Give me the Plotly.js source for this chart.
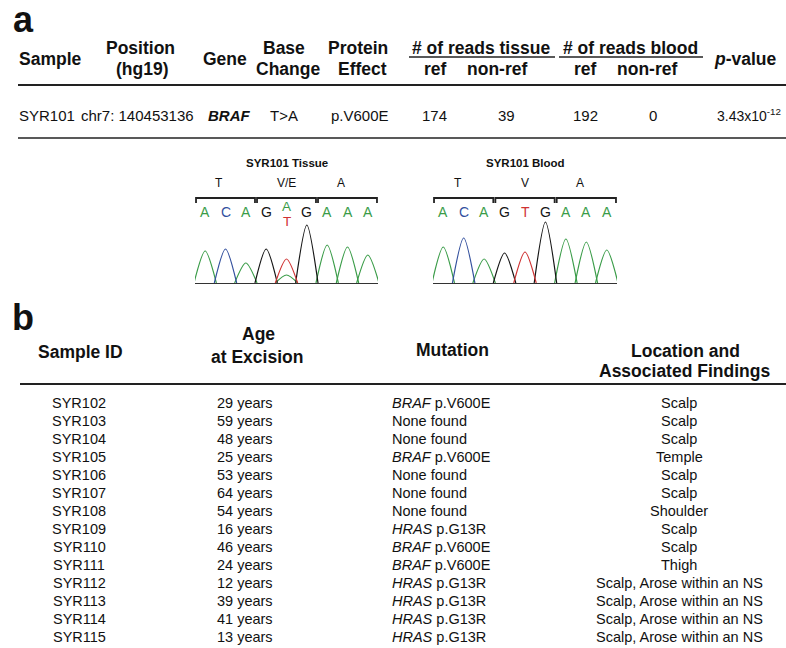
<!DOCTYPE html>
<html><head><meta charset="utf-8">
<script src="https://cdn.plot.ly/plotly-3.0.1.min.js"></script>
<style>html,body{margin:0;padding:0;background:#fff}</style>
</head><body><div id="chart" style="width:786px;height:648px"></div>
<script>
// ---------- Panel a : variant table ----------
const aSample = 'SYR101';
const aPosition = 'chr7: 140453136';
const aGene = 'BRAF';
const aBaseChange = 'T>A';
const aProteinEffect = 'p.V600E';
const aReadGroups = ['# of reads tissue', '# of reads blood'];
const aReadSubCols = ['ref', 'non-ref', 'ref', 'non-ref'];
const aReadCounts = [174, 39, 192, 0];
const aPValueMantissa = '3.43';
const aPValueExponent = -12;

// ---------- Panel a : Sanger chromatograms ----------
const codonLabelsTissue = ['T', 'V/E', 'A'];
const codonLabelsBlood = ['T', 'V', 'A'];
const tissueCalls = ['A', 'C', 'A', 'G', 'A', 'G', 'A', 'A', 'A'];
const tissueSecondCalls = ['', '', '', '', 'T', '', '', '', ''];
const tissuePeakPos = [1, 2, 3, 4, 5, 5, 6, 7, 8, 9];
const tissuePeakBase = ['A', 'C', 'A', 'G', 'T', 'A', 'G', 'A', 'A', 'A'];
const tissuePeakHeight = [32, 34, 20, 34, 24, 8, 58, 38, 36, 28];
const bloodCalls = ['A', 'C', 'A', 'G', 'T', 'G', 'A', 'A', 'A'];
const bloodPeakPos = [1, 2, 3, 4, 5, 6, 7, 8, 9];
const bloodPeakBase = ['A', 'C', 'A', 'G', 'T', 'G', 'A', 'A', 'A'];
const bloodPeakHeight = [36, 45, 24, 30, 31, 61, 44, 41, 33];

// ---------- Panel b : cohort table ----------
const sampleIds = ['SYR102','SYR103','SYR104','SYR105','SYR106','SYR107','SYR108','SYR109','SYR110','SYR111','SYR112','SYR113','SYR114','SYR115'];
const agesYears = [29, 59, 48, 25, 53, 64, 54, 16, 46, 24, 12, 39, 41, 13];
const mutGenes = ['BRAF','','','BRAF','','','','HRAS','BRAF','BRAF','HRAS','HRAS','HRAS','HRAS'];
const mutChanges = ['p.V600E','None found','None found','p.V600E','None found','None found','None found','p.G13R','p.V600E','p.V600E','p.G13R','p.G13R','p.G13R','p.G13R'];
const locations = ['Scalp','Scalp','Scalp','Temple','Scalp','Scalp','Shoulder','Scalp','Scalp','Thigh',
  'Scalp, Arose within an NS','Scalp, Arose within an NS','Scalp, Arose within an NS','Scalp, Arose within an NS'];

// ---------- styling / layout helpers ----------
const W = 786, H = 648;
const FONT = 'Liberation Sans, Arial, Helvetica, sans-serif';
const INK = '#111111';
const baseColors = {A: '#3a9c48', C: '#33509e', G: '#151515', T: '#cf3232'};
const px = v => v / W, py = v => 1 - v / H;

const annotations = [];
const shapes = [];
function txt(text, x, y, size, opts) {
  opts = opts || {};
  annotations.push({
    text: text, x: px(x), y: py(y), xref: 'paper', yref: 'paper', showarrow: false,
    xanchor: opts.anchor || 'center', yanchor: 'middle',
    font: {family: FONT, size: size, color: opts.color || INK}
  });
}
function hline(x0, x1, y, w) {
  shapes.push({type: 'line', xref: 'paper', yref: 'paper', x0: px(x0), x1: px(x1), y0: py(y), y1: py(y),
    line: {color: '#222', width: w}});
}
const B = s => '<b>' + s + '</b>';

// Panel labels
txt(B('a'), 23, 19, 36);
txt(B('b'), 23, 317, 36);

// Panel a header
const HS = 17.5;
txt(B('Sample'), 50, 59, HS);
txt(B('Position'), 140, 48, HS); txt(B('(hg19)'), 142, 69, HS);
txt(B('Gene'), 225, 59, HS);
txt(B('Base'), 284, 48, HS); txt(B('Change'), 288, 69, HS);
txt(B('Protein'), 358, 48, HS); txt(B('Effect'), 362, 69, HS);
const groupX = [481, 630];
aReadGroups.forEach((g, i) => txt(B(g), groupX[i], 48, HS));
hline(409, 555, 57, 1.5); hline(559, 703, 57, 1.5);
const subX = [435, 497, 585, 647];
aReadSubCols.forEach((s, i) => txt(B(s), subX[i], 69, HS));
txt(B('<i>p</i>-value'), 745, 59, HS);
hline(18, 786, 85, 2);

// Panel a data row
const DS = 15;
txt(aSample, 47, 115, DS);
txt(aPosition, 137, 115, DS);
txt(B('<i>' + aGene + '</i>'), 229, 115, DS);
txt(aBaseChange.replace('>', '&gt;'), 284, 115, DS);
txt(aProteinEffect, 360, 115, DS);
const countX = [434, 506, 585, 653];
aReadCounts.forEach((c, i) => txt(String(c), countX[i], 115, DS));
txt(aPValueMantissa + 'x10<sup>' + aPValueExponent + '</sup>', 749, 115, 14);
hline(18, 786, 138, 1.5);

// Chromatograms
const traces = [];
function chromatogram(xa, ya, title, codons, calls, second, pPos, pBase, pH) {
  ['A', 'C', 'G', 'T'].forEach(b => {
    const xs = [], ys = [];
    pPos.forEach((p, i) => {
      if (pBase[i] !== b) return;
      xs.push(p - 0.55, p, p + 0.55, null);
      ys.push(0, pH[i], 0, null);
    });
    if (xs.length) traces.push({type: 'scatter', mode: 'lines', x: xs, y: ys, xaxis: xa, yaxis: ya,
      line: {color: baseColors[b], width: 1.2, shape: 'spline', smoothing: 0.8},
      hoverinfo: 'skip', showlegend: false, connectgaps: false});
  });
  const xr = xa;
  const ann = (text, xv, yv, size, color) => annotations.push({text: text, x: xv, y: py(yv), xref: xr, yref: 'paper',
    showarrow: false, xanchor: 'center', yanchor: 'middle', font: {family: FONT, size: size, color: color || INK}});
  ann(B(title), 5, 163, 11.5);
  codons.forEach((c, k) => {
    ann(c, 3 * k + 2 + (k === 1 ? 0 : -0.3), 183, 12);
    const x0 = 3 * k + 0.55, x1 = 3 * k + 3.45;
    shapes.push({type: 'path', xref: xr, yref: 'paper',
      path: 'M' + x0 + ',' + py(203) + ' L' + x0 + ',' + py(198) + ' L' + x1 + ',' + py(198) + ' L' + x1 + ',' + py(203),
      line: {color: '#222', width: 1.8}});
  });
  calls.forEach((c, i) => {
    if (second && second[i]) {
      ann(c, i + 1, 206, 13.5, baseColors[c]);
      ann(second[i], i + 1, 222, 13.5, baseColors[second[i]]);
    } else {
      ann(c, i + 1, 212, 14, baseColors[c]);
    }
  });
  shapes.push({type: 'line', xref: xr, yref: 'paper', x0: 0.5, x1: 9.5, y0: py(283.5), y1: py(283.5),
    line: {color: '#333', width: 1.2}});
}
chromatogram('x2', 'y2', 'SYR101 Tissue', codonLabelsTissue, tissueCalls, tissueSecondCalls, tissuePeakPos, tissuePeakBase, tissuePeakHeight);
chromatogram('x3', 'y3', 'SYR101 Blood', codonLabelsBlood, bloodCalls, null, bloodPeakPos, bloodPeakBase, bloodPeakHeight);

// Panel b header
const BS = 17.5;
txt(B('Sample ID'), 80, 352, BS);
txt(B('Age'), 258, 334, BS); txt(B('at Excision'), 257, 357, BS);
txt(B('Mutation'), 452, 350, BS);
txt(B('Location and'), 685, 351, BS); txt(B('Associated Findings'), 684, 371, BS);
hline(20, 786, 384, 2);

// Panel b rows
const RS = 14.5;
sampleIds.forEach((s, i) => {
  const y = 403 + 18 * i;
  txt(s, 79, y, RS);
  txt(agesYears[i] + ' years', 245, y, RS);
  txt((mutGenes[i] ? '<i>' + mutGenes[i] + '</i> ' : '') + mutChanges[i], 390, y, RS, {anchor: 'left'});
  txt(locations[i], 679, y, RS);
});

const yDom = [py(283), py(208)];
const layout = {
  width: W, height: H, margin: {l: 0, r: 0, t: 0, b: 0},
  paper_bgcolor: '#fff', plot_bgcolor: 'rgba(0,0,0,0)', showlegend: false,
  xaxis2: {domain: [px(195), px(378)], range: [0.5, 9.5], visible: false, anchor: 'y2', fixedrange: true},
  yaxis2: {domain: yDom, range: [0, 75], visible: false, anchor: 'x2', fixedrange: true},
  xaxis3: {domain: [px(433), px(617)], range: [0.5, 9.5], visible: false, anchor: 'y3', fixedrange: true},
  yaxis3: {domain: yDom, range: [0, 75], visible: false, anchor: 'x3', fixedrange: true},
  annotations: annotations, shapes: shapes
};
Plotly.newPlot('chart', traces, layout, {staticPlot: true, displayModeBar: false});
</script></body></html>
